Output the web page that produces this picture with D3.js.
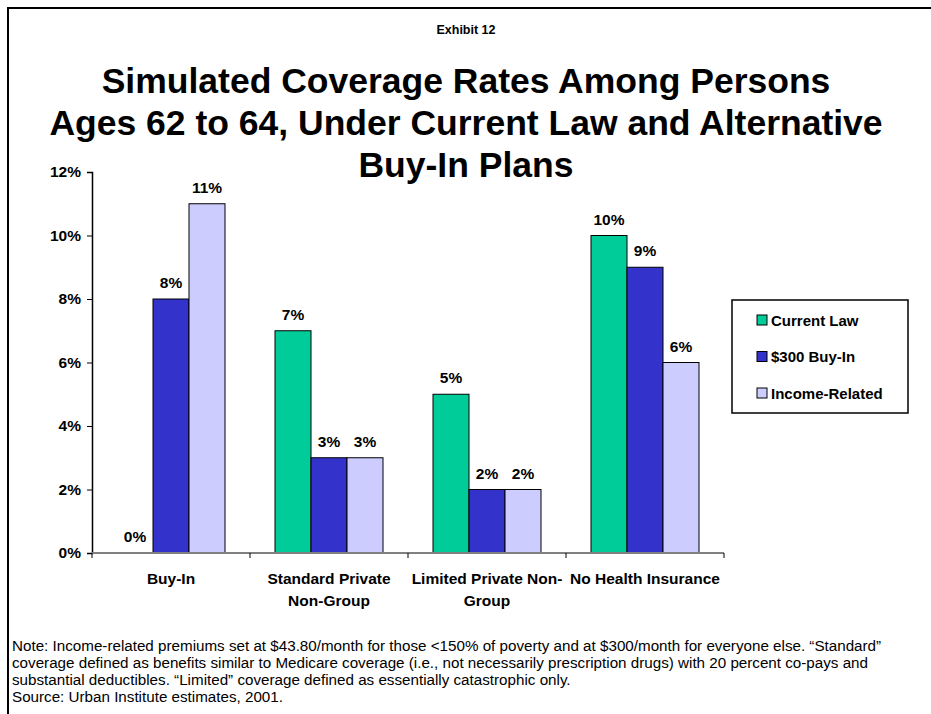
<!DOCTYPE html>
<html>
<head>
<meta charset="utf-8">
<script src="https://cdn.jsdelivr.net/npm/d3@7"></script>
<style>
  body { margin: 0; background: #fff; }
  text { font-family: Arial, "Liberation Sans", sans-serif; }
</style>
</head>
<body>
<div id="chart"></div>
<script>
// data
let categories = [["Buy-In"], ["Standard Private", "Non-Group"], ["Limited Private Non-", "Group"], ["No Health Insurance"]];
let seriesNames = ["Current Law", "$300 Buy-In", "Income-Related"];
let currentLaw = [0, 7, 5, 10];
let buyIn300 = [8, 3, 2, 9];
let incomeRelated = [11, 3, 2, 6];
let yTicks = [0, 2, 4, 6, 8, 10, 12];
let colors = ["#00cc99", "#3333cc", "#ccccff"];
let titleLines = ["Simulated Coverage Rates Among Persons", "Ages 62 to 64, Under Current Law and Alternative", "Buy-In Plans"];
let noteLines = [
    "Note:  Income-related premiums set at $43.80/month for those <150% of poverty and at $300/month for everyone else. \u201cStandard\u201d",
    "coverage defined as benefits similar to Medicare coverage (i.e., not necessarily prescription drugs) with 20 percent co-pays and",
    "substantial deductibles.  \u201cLimited\u201d coverage defined as essentially catastrophic only.",
    "Source:  Urban Institute estimates, 2001."
];

let series = [currentLaw, buyIn300, incomeRelated];

let width = 931, height = 714;
let svg = d3.select("#chart").append("svg")
    .attr("width", width)
    .attr("height", height);

// frame
svg.append("path")
    .attr("d", "M8,714 V8 H931")
    .attr("fill", "none")
    .attr("stroke", "#000")
    .attr("stroke-width", 2);

svg.append("text")
    .attr("x", 466).attr("y", 34)
    .attr("text-anchor", "middle")
    .attr("font-size", 12.5).attr("font-weight", "bold")
    .text("Exhibit 12");

svg.selectAll(".title").data(titleLines).enter().append("text")
    .attr("class", "title")
    .attr("x", 466)
    .attr("y", (d, i) => 93 + i * 42)
    .attr("text-anchor", "middle")
    .attr("font-size", 35.5).attr("font-weight", "bold")
    .text(d => d);

// scales
let x0 = d3.scaleBand().domain(d3.range(categories.length)).range([92, 724]).paddingInner(0).paddingOuter(0);
let x1 = d3.scaleBand().domain(d3.range(series.length)).range([25, 133]);
let y = d3.scaleLinear().domain([0, 12]).range([553, 172]);

// y axis
let yAxis = svg.append("g")
    .attr("transform", "translate(92,0)")
    .call(d3.axisLeft(y).tickValues(yTicks).tickFormat(d => d + "%").tickSize(5).tickPadding(6));
yAxis.select(".domain").attr("stroke", "#000").attr("stroke-width", 1.5);
yAxis.selectAll(".tick line").attr("stroke", "#000");
yAxis.selectAll("text")
    .attr("font-size", 15.5).attr("font-weight", "bold").attr("fill", "#000")
    .attr("font-family", "Arial, 'Liberation Sans', sans-serif");

// bars
let groups = svg.selectAll(".grp").data(categories).enter().append("g")
    .attr("class", "grp")
    .attr("transform", (d, i) => "translate(" + x0(i) + ",0)");

series.forEach(function (vals, s) {
    groups.append("rect")
        .attr("x", x1(s))
        .attr("width", x1.bandwidth())
        .attr("y", (d, i) => y(vals[i]))
        .attr("height", (d, i) => y(0) - y(vals[i]))
        .attr("fill", colors[s])
        .attr("stroke", "#000")
        .attr("stroke-width", 1)
        .style("display", (d, i) => vals[i] === 0 ? "none" : null);

    groups.append("text")
        .attr("x", x1(s) + x1.bandwidth() / 2)
        .attr("y", (d, i) => y(vals[i]) - 11)
        .attr("text-anchor", "middle")
        .attr("font-size", 15.5).attr("font-weight", "bold")
        .text((d, i) => vals[i] + "%");
});

// x axis
let xAxis = svg.append("g")
    .attr("transform", "translate(0,553)");
xAxis.append("line")
    .attr("x1", 92).attr("x2", 724)
    .attr("stroke", "#808080").attr("stroke-width", 2);
xAxis.selectAll(".xt").data(d3.range(categories.length + 1)).enter().append("line")
    .attr("x1", d => 92 + d * x0.bandwidth())
    .attr("x2", d => 92 + d * x0.bandwidth())
    .attr("y1", 0).attr("y2", 5)
    .attr("stroke", "#000");

let catLabels = svg.selectAll(".cat").data(categories).enter().append("text")
    .attr("class", "cat")
    .attr("text-anchor", "middle")
    .attr("font-size", 15.5).attr("font-weight", "bold")
    .attr("x", (d, i) => x0(i) + x0.bandwidth() / 2)
    .attr("y", 584);
catLabels.selectAll("tspan").data(d => d).enter().append("tspan")
    .attr("x", function () { return d3.select(this.parentNode).attr("x"); })
    .attr("dy", (d, i) => i === 0 ? 0 : 22)
    .text(d => d);

// legend
let legend = svg.append("g");
legend.append("rect")
    .attr("x", 732).attr("y", 300)
    .attr("width", 176).attr("height", 113)
    .attr("fill", "#fff").attr("stroke", "#000").attr("stroke-width", 1.5);
seriesNames.forEach(function (name, i) {
    let cy = 320 + i * 36.5;
    legend.append("rect")
        .attr("x", 757).attr("y", cy - 5)
        .attr("width", 10).attr("height", 10)
        .attr("fill", colors[i]).attr("stroke", "#000");
    legend.append("text")
        .attr("x", 771).attr("y", cy + 5.5)
        .attr("font-size", 15).attr("font-weight", "bold")
        .text(name);
});

// notes
svg.selectAll(".note").data(noteLines).enter().append("text")
    .attr("class", "note")
    .attr("x", 12)
    .attr("y", (d, i) => 651 + i * 17)
    .attr("font-size", 15.2)
    .text(d => d);
</script>
</body>
</html>
